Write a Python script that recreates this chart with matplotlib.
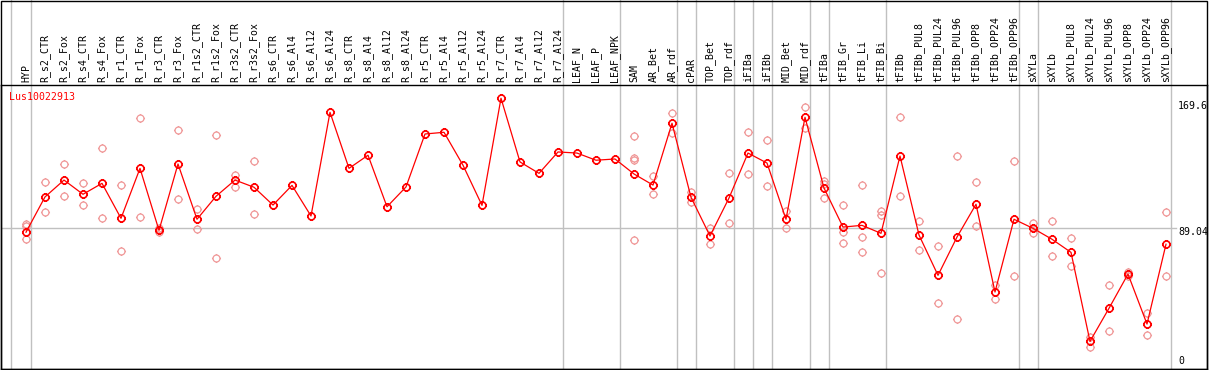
import matplotlib
matplotlib.use("Agg")
import matplotlib.pyplot as plt
import matplotlib.path as mpath
from matplotlib.lines import Line2D
from matplotlib.patches import Rectangle

categories = ["HYP", "R_s2_CTR", "R_s2_Fox", "R_s4_CTR", "R_s4_Fox", "R_r1_CTR", "R_r1_Fox",
              "R_r3_CTR", "R_r3_Fox", "R_r1s2_CTR", "R_r1s2_Fox", "R_r3s2_CTR", "R_r3s2_Fox",
              "R_s6_CTR", "R_s6_Al4", "R_s6_Al12", "R_s6_Al24", "R_s8_CTR", "R_s8_Al4",
              "R_s8_Al12", "R_s8_Al24", "R_r5_CTR", "R_r5_Al4", "R_r5_Al12", "R_r5_Al24",
              "R_r7_CTR", "R_r7_Al4", "R_r7_Al12", "R_r7_Al24", "LEAF_N", "LEAF_P", "LEAF_NPK",
              "SAM", "AR_Bet", "AR_rdf", "cPAR", "TOP_Bet", "TOP_rdf", "iFIBa", "iFIBb",
              "MID_Bet", "MID_rdf", "tFIBa", "tFIB_Gr", "tFIB_Li", "tFIB_Bi", "tFIBb",
              "tFIBb_PUL8", "tFIBb_PUL24", "tFIBb_PUL96", "tFIBb_OPP8", "tFIBb_OPP24",
              "tFIBb_OPP96", "sXYLa", "sXYLb", "sXYLb_PUL8", "sXYLb_PUL24", "sXYLb_PUL96",
              "sXYLb_OPP8", "sXYLb_OPP24", "sXYLb_OPP96"]

mean_values = [86.5, 109.1, 119.9, 110.8, 117.8, 95.4, 127.4, 87.7, 130.2, 94.8, 109.5,
               119.9, 115.3, 103.9, 116.5, 96.9, 163.3, 127.4, 135.8, 102.8, 115.5, 149.4,
               150.5, 129.4, 103.7, 172.3, 131.5, 124.2, 137.9, 137.2, 132.6, 133.4, 123.8,
               116.7, 156.3, 108.9, 84.1, 108.4, 137.2, 130.8, 94.8, 160.1, 114.8, 89.8,
               90.9, 85.8, 135.3, 84.7, 58.9, 83.4, 104.4, 48.2, 94.8, 89.0, 82.0, 73.6,
               16.6, 37.8, 59.7, 27.7, 78.8]

replicate_values = [
    [91.6, 90.2, 82.0], [118.7, 99.3], [130.2, 109.7], [118.0, 103.9], [140.2, 95.6],
    [116.5, 74.3], [159.5, 96.2], [89.2, 86.6], [151.8, 107.8], [101.4, 88.4],
    [148.6, 69.8], [123.1, 115.7], [132.1, 98.2], [], [], [], [], [], [], [], [], [], [],
    [], [], [], [], [], [], [], [], [],
    [148.1, 134.2, 132.6, 81.5], [122.5, 111.0], [162.7, 149.8], [112.3, 105.7],
    [89.4, 78.8], [124.2, 92.2], [150.5, 123.6], [145.4, 115.9], [100.3, 89.4],
    [166.5, 153.0], [119.1, 117.6, 108.4], [103.7, 86.6, 79.4], [116.5, 83.2, 73.6],
    [100.1, 97.5, 60.2], [160.1, 109.7], [93.7, 75.1], [77.7, 41.2], [135.1, 30.9],
    [118.5, 90.5], [52.9, 43.5], [131.9, 58.5], [92.6, 86.2], [93.7, 71.1], [82.8, 64.9],
    [19.2, 13.2], [52.7, 23.2], [61.0, 58.5], [34.6, 20.5], [99.4, 58.5]]

group_ends = [-1.045, 0, 28, 31, 34, 35, 37, 38, 39, 41, 42, 45, 52, 53, 60]
y_tick_values = [169.6, 89.04, 0]
y_tick_labels = ["169.6", "89.04", "0"]
gene_name = "Lus10022913"

W, H = 1209, 370
fig = plt.figure(figsize=(W / 100, H / 100), dpi=100)
ax_left, ax_right, ax_top, ax_bottom = 1, 1207, 85, 369
ax = fig.add_axes([ax_left / W, (H - ax_bottom) / H, (ax_right - ax_left) / W,
                   (ax_bottom - ax_top) / H])
step = 19.0
x0 = 26.0
ax.set_xlim((ax_left - x0) / step, (ax_right - x0) / step)
k = 1.5616
zero_px = 367.3
ax.set_ylim((zero_px - ax_bottom) / k, (zero_px - ax_top) / k)
ax.set_facecolor("white")

font = {"family": "DejaVu Sans Mono", "size": 7.1}

# custom marker: circle with small ticks
circ = mpath.Path.unit_circle()
verts = list(circ.vertices)
codes = list(circ.codes)
for dx, dy in [(0, 1), (1, 0), (0, -1), (-1, 0)]:
    verts += [(dx * 1.0, dy * 1.0), (dx * 1.3, dy * 1.3)]
    codes += [mpath.Path.MOVETO, mpath.Path.LINETO]
tick_marker = mpath.Path(verts, codes)

ext = 1 + 85 / (ax_bottom - ax_top)
for g in group_ends:
    ax.axvline(g + 0.24, ymin=0, ymax=ext, color="#c0c0c0", lw=1.0, clip_on=False, zorder=1)
ax.axhline(89.04, xmin=0, xmax=(1176 - ax_left) / (ax_right - ax_left), color="#c0c0c0",
           lw=1.0, zorder=1)

xs = list(range(len(categories)))
rx, ry = [], []
for i, reps in enumerate(replicate_values):
    for v in reps:
        rx.append(i)
        ry.append(v)
ax.plot(rx, ry, linestyle="none", marker=tick_marker, markersize=6.5, mfc="none",
        mec="#f09898", mew=0.9, zorder=2)
ax.plot(xs, mean_values, color="#ff0000", lw=0.9, marker=tick_marker, markersize=6.5,
        mfc="none", mec="#ff0000", mew=1.2, zorder=3)

ax.xaxis.tick_top()
ax.set_xticks(xs)
ax.set_xticklabels(categories, rotation=90, fontdict=font)
ax.tick_params(axis="x", length=0, pad=2.2)
ax.set_yticks([])
for s in ax.spines.values():
    s.set_color("black")
    s.set_linewidth(1.0)

label_x = (1178 - ax_left) / (ax_right - ax_left)
offsets = [-4, -4, 6]
for v, lbl, off in zip(y_tick_values, y_tick_labels, offsets):
    ax.annotate(lbl, xy=(label_x, v), xycoords=("axes fraction", "data"),
                xytext=(0, off * 0.72), textcoords="offset points", ha="left",
                va="center", color="black", annotation_clip=False, **font)

fig.text(9 / W, 1 - 96.7 / H, gene_name, color="#ff0000", ha="left", va="center", **font)

fig.add_artist(Rectangle((1 / W, 1 / H), (ax_right - 1) / W, (H - 1.5) / H, fill=False,
                         edgecolor="black", lw=1.0, transform=fig.transFigure))

fig.savefig("out.png", dpi=100)
